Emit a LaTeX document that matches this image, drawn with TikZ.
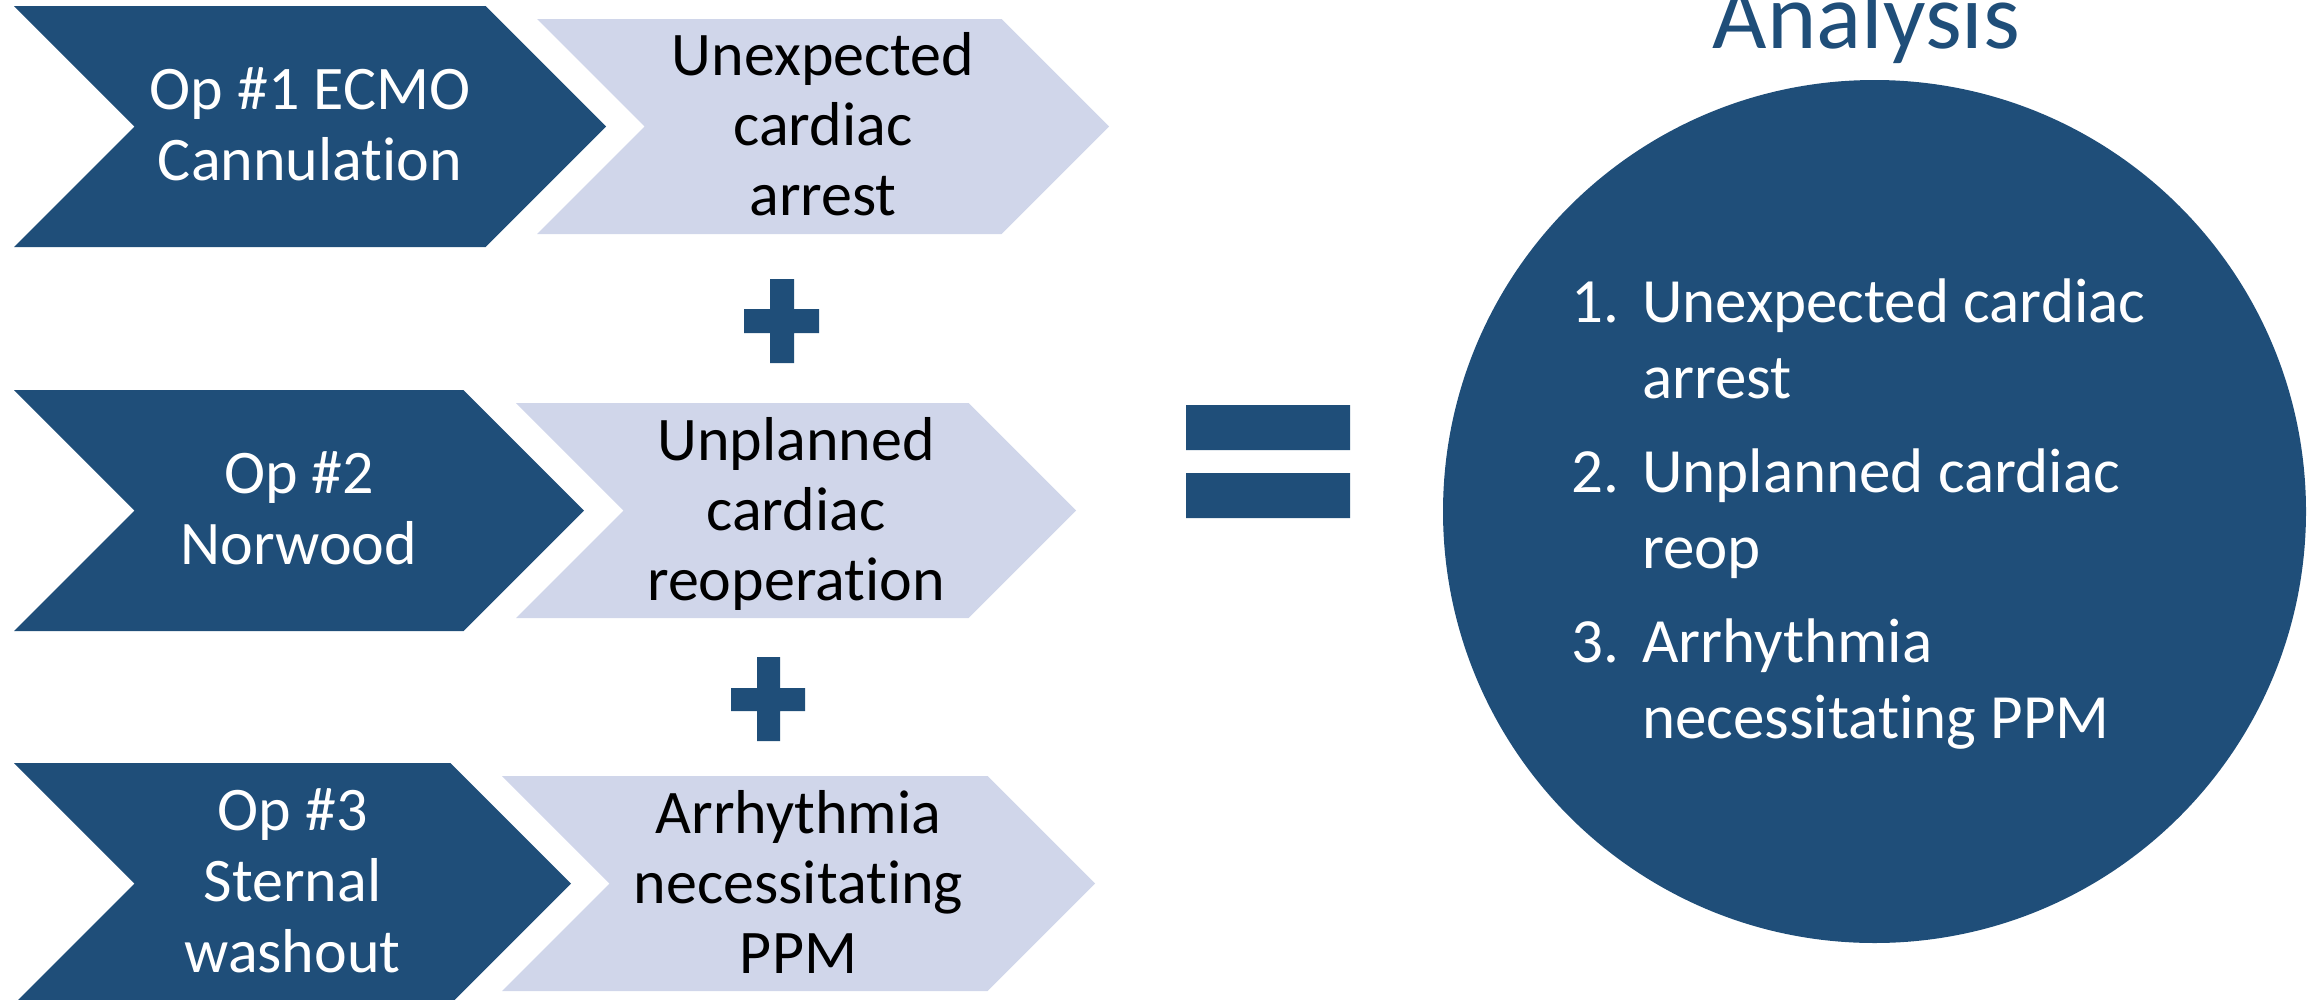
\documentclass[tikz,border=0pt]{standalone}
\usepackage{fontspec}
\setmainfont{Carlito}[Ligatures=NoCommon]
\definecolor{opblue}{RGB}{31,78,121}
\definecolor{eventblue}{RGB}{208,214,234}

\begin{document}
\begin{tikzpicture}[x=1pt,y=-1pt]
   \useasboundingbox (0,0) rectangle (2318,999);
   \tikzset{OpStyle/.style = {fill=opblue},
            EventStyle/.style = {fill=eventblue},
            OpText/.style = {text=white,align=center,inner sep=0pt,
                             font=\fontsize{62}{71}\selectfont},
            EventText/.style = {text=black,align=center,inner sep=0pt,
                                font=\fontsize{62}{70}\selectfont}}
   % operations (dark chevrons)
   \fill[OpStyle] (14,6) -- (485.5,6) -- (606,126.5) -- (485.5,247) -- (14,247) -- (134.5,126.5) -- cycle;
   \fill[OpStyle] (14,390) -- (463.5,390) -- (584,510.5) -- (463.5,631) -- (14,631) -- (134.5,510.5) -- cycle;
   \fill[OpStyle] (14,763) -- (450.5,763) -- (571,883.5) -- (450.5,1004) -- (14,1004) -- (134.5,883.5) -- cycle;
   % events (light chevrons)
   \fill[EventStyle] (537,19) -- (1001.5,19) -- (1109,126.5) -- (1001.5,234) -- (537,234) -- (644.5,126.5) -- cycle;
   \fill[EventStyle] (516,403) -- (968.5,403) -- (1076,510.5) -- (968.5,618) -- (516,618) -- (623.5,510.5) -- cycle;
   \fill[EventStyle] (502,776) -- (987.5,776) -- (1095,883.5) -- (987.5,991) -- (502,991) -- (609.5,883.5) -- cycle;
   \node[OpText] (op1) at (310,124) {Op \#1 ECMO\\Cannulation};
   \node[OpText] (op2) at (299,508) {Op \#2\\Norwood};
   \node[OpText] (op3) at (292.5,881) {Op \#3\\Sternal\\washout};
   \node[EventText] (ev1) at (823,124) {Unexpected\\cardiac\\arrest};
   \node[EventText] (ev2) at (796,514) {Unplanned\\cardiac\\reoperation};
   \node[EventText] (ev3) at (798.5,882) {Arrhythmia\\necessitating\\PPM};
   % plus and equals
   \fill[OpStyle] (770,279) rectangle (794,363) (744,309) rectangle (819,333);
   \fill[OpStyle] (757,657) rectangle (780,741) (731,688) rectangle (805,711);
   \fill[OpStyle] (1186,405) rectangle (1350,450) (1186,473) rectangle (1350,518);
   % analysis
   \node[text=opblue,inner sep=0pt,anchor=base,font=\fontsize{94}{100}\selectfont] (title) at (1866.5,48) {Analysis};
   \node[circle,OpStyle,minimum size=863pt,inner sep=0pt] (result) at (1874.5,511.5) {};
   \node[text=white,inner sep=0pt,anchor=base west,font=\fontsize{63}{76}\selectfont] (list) at (1571,322)
      {\begin{tabular}[t]{@{}p{71pt}@{}l@{}}
       1. & Unexpected cardiac\\
          & arrest\\[18pt]
       2. & Unplanned cardiac\\
          & reop\\[18pt]
       3. & Arrhythmia\\
          & necessitating PPM
       \end{tabular}};
\end{tikzpicture}
\end{document}
